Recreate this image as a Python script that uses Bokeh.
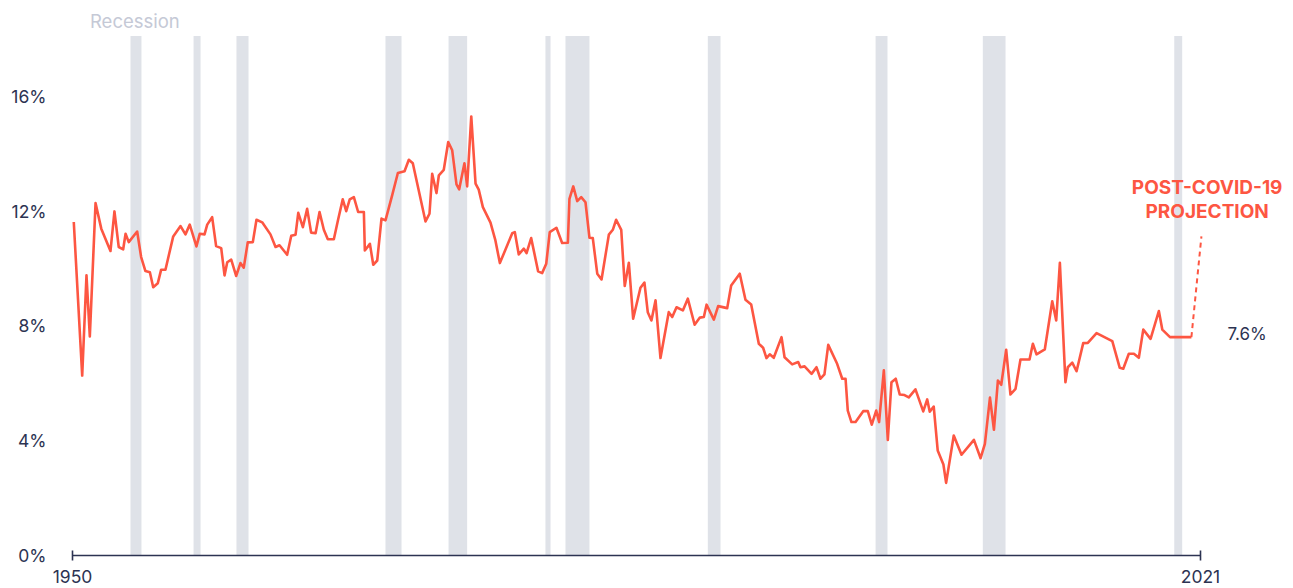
from bokeh.plotting import figure
from bokeh.models import Range1d, FixedTicker, PrintfTickFormatter, ColumnDataSource
from bokeh.core.properties import value
from bokeh.embed import file_html
from bokeh.resources import INLINE

# ---- data ----
years = [1950.08, 1950.61, 1950.88, 1951.09, 1951.45, 1951.81, 1952.39, 1952.64, 1952.91, 1953.19,
         1953.34, 1953.54, 1954.07, 1954.32, 1954.59, 1954.87, 1955.08, 1955.37, 1955.58, 1955.85,
         1956.34, 1956.80, 1957.11, 1957.38, 1957.80, 1958.01, 1958.31, 1958.48, 1958.79, 1959.04,
         1959.36, 1959.57, 1959.74, 1959.99, 1960.30, 1960.57, 1960.78, 1961.03, 1961.35, 1961.58,
         1961.94, 1962.46, 1962.78, 1963.03, 1963.51, 1963.77, 1964.04, 1964.21, 1964.50, 1964.77,
         1965.02, 1965.30, 1965.55, 1965.82, 1966.07, 1966.45, 1966.72, 1967.01, 1967.23, 1967.45,
         1967.71, 1967.98, 1968.34, 1968.40, 1968.72, 1968.93, 1969.18, 1969.45, 1969.70, 1970.12,
         1970.48, 1970.90, 1971.17, 1971.42, 1972.22, 1972.47, 1972.64, 1972.91, 1973.06, 1973.37,
         1973.65, 1973.90, 1974.17, 1974.34, 1974.67, 1974.84, 1975.10, 1975.37, 1975.57, 1975.83,
         1976.31, 1976.62, 1976.90, 1977.68, 1977.84, 1978.09, 1978.41, 1978.58, 1978.87, 1979.31,
         1979.56, 1979.82, 1980.04, 1980.46, 1980.82, 1981.18, 1981.28, 1981.52, 1981.77, 1982.02,
         1982.29, 1982.54, 1982.75, 1983.03, 1983.30, 1983.76, 1984.01, 1984.22, 1984.54, 1984.76,
         1985.02, 1985.29, 1985.75, 1986.00, 1986.21, 1986.44, 1986.70, 1987.01, 1987.53, 1987.75,
         1988.02, 1988.42, 1988.73, 1989.16, 1989.49, 1989.74, 1989.91, 1990.37, 1990.64, 1991.21,
         1991.46, 1992.00, 1992.36, 1992.72, 1993.20, 1993.47, 1993.68, 1993.89, 1994.14, 1994.63,
         1994.82, 1995.30, 1995.68, 1995.82, 1996.08, 1996.52, 1996.83, 1997.08, 1997.33, 1997.57,
         1998.13, 1998.45, 1998.66, 1998.80, 1999.03, 1999.29, 1999.77, 2000.06, 2000.31, 2000.59,
         2000.77, 2001.07, 2001.32, 2001.55, 2001.82, 2002.07, 2002.37, 2002.64, 2003.06, 2003.55,
         2003.80, 2003.96, 2004.21, 2004.46, 2004.82, 2004.99, 2005.47, 2005.96, 2006.74, 2007.16,
         2007.43, 2007.75, 2008.00, 2008.25, 2008.46, 2008.77, 2009.04, 2009.36, 2009.67, 2010.24,
         2010.45, 2010.68, 2011.20, 2011.67, 2011.92, 2012.15, 2012.50, 2012.65, 2012.93, 2013.20,
         2013.62, 2013.91, 2014.46, 2015.45, 2015.92, 2016.14, 2016.49, 2016.81, 2017.12, 2017.40,
         2017.86, 2018.38, 2018.60, 2019.08, 2020.43]
rates = [11.62, 6.27, 9.76, 7.63, 12.28, 11.39, 10.61, 11.99, 10.75, 10.67,
         11.21, 10.92, 11.29, 10.40, 9.91, 9.87, 9.35, 9.49, 9.96, 9.96,
         11.12, 11.48, 11.19, 11.53, 10.77, 11.21, 11.19, 11.53, 11.79, 10.78,
         10.71, 9.76, 10.22, 10.31, 9.74, 10.19, 10.03, 10.91, 10.92, 11.70,
         11.61, 11.19, 10.75, 10.81, 10.48, 11.14, 11.18, 11.94, 11.44, 12.08,
         11.25, 11.23, 11.97, 11.35, 11.02, 11.02, 11.71, 12.41, 12.00, 12.41,
         12.49, 11.97, 11.97, 10.63, 10.86, 10.13, 10.28, 11.74, 11.68, 12.55,
         13.33, 13.39, 13.79, 13.67, 11.64, 11.91, 13.30, 12.63, 13.25, 13.44,
         14.41, 14.12, 12.93, 12.76, 13.67, 12.86, 15.30, 12.96, 12.75, 12.14,
         11.60, 10.98, 10.19, 11.23, 11.27, 10.49, 10.69, 10.54, 11.06, 9.90,
         9.84, 10.17, 11.27, 11.42, 10.89, 10.90, 12.43, 12.86, 12.35, 12.49,
         12.31, 11.07, 11.06, 9.82, 9.62, 11.18, 11.35, 11.70, 11.35, 9.39,
         10.20, 8.25, 9.33, 9.51, 8.48, 8.19, 8.89, 6.88, 8.48, 8.31,
         8.65, 8.54, 8.95, 8.04, 8.29, 8.31, 8.74, 8.22, 8.69, 8.62,
         9.41, 9.82, 8.91, 8.75, 7.38, 7.24, 6.88, 7.01, 6.89, 7.61,
         6.91, 6.66, 6.74, 6.56, 6.59, 6.33, 6.56, 6.16, 6.31, 7.34,
         6.68, 6.16, 6.16, 5.05, 4.65, 4.65, 5.03, 5.03, 4.56, 5.05,
         4.65, 6.45, 4.03, 6.04, 6.16, 5.61, 5.59, 5.51, 5.79, 5.02,
         5.44, 5.01, 5.19, 3.66, 3.17, 2.53, 4.18, 3.51, 4.03, 3.39,
         3.89, 5.50, 4.38, 6.10, 5.95, 7.17, 5.61, 5.81, 6.83, 6.83,
         7.38, 7.01, 7.18, 8.86, 8.19, 10.20, 6.04, 6.56, 6.72, 6.42,
         7.40, 7.41, 7.75, 7.47, 6.54, 6.51, 7.03, 7.03, 6.89, 7.87,
         7.55, 8.52, 7.87, 7.61, 7.61]

projection_years = [2020.43, 2021.06]
projection_rates = [7.61, 11.12]

recession_start = [1953.65, 1957.62, 1960.32, 1969.70, 1973.67, 1979.77, 1981.03, 1989.99, 2000.55, 2007.30, 2019.35]
recession_end = [1954.34, 1958.06, 1961.08, 1970.71, 1974.84, 1980.09, 1982.54, 1990.79, 2001.30, 2008.73, 2019.85]

y_ticks = [0, 4, 8, 12, 16]
x_ticks = [1950, 2021]
final_label = "7.6%"

# ---- styles ----
RED = "#fd5642"
NAVY = "#2c3352"
BAND = "#dfe2e8"
FONT = "Inter"

p = figure(width=1293, height=588, output_backend="svg", toolbar_location=None,
           x_range=Range1d(1949.37, 2026.856), y_range=Range1d(0, 19.34),
           min_border_left=62, min_border_right=0, min_border_top=0, min_border_bottom=33)
p.background_fill_color = "white"
p.border_fill_color = "white"
p.outline_line_color = None
p.xgrid.visible = False
p.ygrid.visible = False

# recession bands
bands = ColumnDataSource(dict(left=recession_start, right=recession_end,
                              bottom=[0] * len(recession_start), top=[18.1] * len(recession_start)))
p.quad(left="left", right="right", bottom="bottom", top="top", source=bands,
       fill_color=BAND, line_color=None)

p.text(x=[1951.1], y=[18.62], text=["Recession"], text_font=value(FONT), text_font_size="18.5px",
       text_color="#c5c9d6", text_baseline="middle", text_align="left")

# main line
p.line(years, rates, line_color=RED, line_width=2.6, line_join="round")
p.line(projection_years, projection_rates, line_color=RED, line_width=2, line_dash="5 4")

p.text(x=[2021.42, 2021.42], y=[12.84, 12.0], text=["POST-COVID-19", "PROJECTION"],
       text_font=value(FONT), text_font_size="19px", text_font_style="bold",
       text_color=RED, text_align="center", text_baseline="middle")
p.text(x=[2023.94], y=[rates[-1] + 0.12], text=[final_label], text_font=value(FONT),
       text_font_size="17px", text_color=NAVY, text_align="center", text_baseline="middle")

# axes
xa = p.xaxis[0]
xa.ticker = FixedTicker(ticks=x_ticks)
xa.bounds = (1950, 2021)
xa.axis_line_color = NAVY
xa.axis_line_width = 1.6
xa.major_tick_line_color = NAVY
xa.major_tick_line_width = 1.6
xa.major_tick_in = 5
xa.major_tick_out = 5
xa.minor_tick_line_color = None
xa.major_label_standoff = 9
xa.major_label_text_font = FONT
xa.major_label_text_font_size = "17.5px"
xa.major_label_text_color = NAVY

ya = p.yaxis[0]
ya.ticker = FixedTicker(ticks=y_ticks)
ya.formatter = PrintfTickFormatter(format="%d%%")
ya.axis_line_color = None
ya.major_tick_line_color = None
ya.minor_tick_line_color = None
ya.major_label_standoff = 10
ya.major_label_text_font = FONT
ya.major_label_text_font_size = "17.5px"
ya.major_label_text_color = NAVY

open("out.html", "w").write(file_html(p, INLINE))
